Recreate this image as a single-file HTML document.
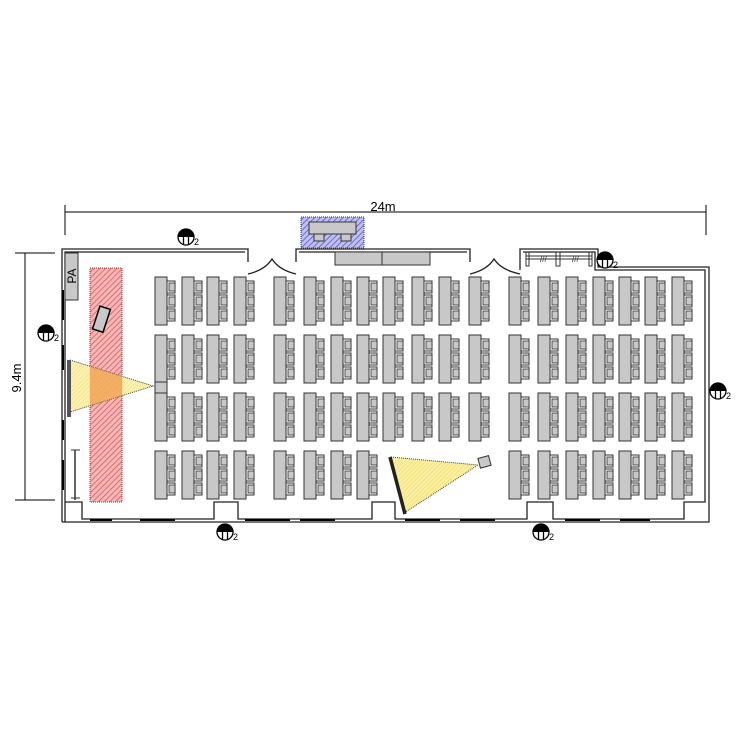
<!DOCTYPE html>
<html><head><meta charset="utf-8"><style>
html,body{margin:0;padding:0;background:#fff;}
svg{display:block;font-family:"Liberation Sans",sans-serif;}
</style></head><body>
<svg width="748" height="748" viewBox="0 0 748 748" xmlns="http://www.w3.org/2000/svg">
<defs>
<pattern id="red" width="4" height="4" patternUnits="userSpaceOnUse" patternTransform="rotate(45)"><rect width="4" height="4" fill="#f4b8b8"/><line x1="0" y1="0" x2="0" y2="4" stroke="#e05050" stroke-width="1.5"/></pattern>
<pattern id="blue" width="4" height="4" patternUnits="userSpaceOnUse" patternTransform="rotate(45)"><rect width="4" height="4" fill="#c0c0f0"/><line x1="0" y1="0" x2="0" y2="4" stroke="#5050c8" stroke-width="1.5"/></pattern>
<pattern id="yel" width="3" height="3" patternUnits="userSpaceOnUse" patternTransform="rotate(45)"><rect width="3" height="3" fill="#fbf0a0"/><line x1="0" y1="0" x2="0" y2="3" stroke="#e8d060" stroke-width="0.8"/></pattern>
<clipPath id="tri"><polygon points="70,360 153,386 70,412"/></clipPath>
<g id="desk">
<rect x="0" y="0" width="12" height="48" fill="#c8c8c8" stroke="#333" stroke-width="1"/>
<rect x="12" y="4" width="8" height="12" fill="#fff" stroke="#333" stroke-width="1"/><rect x="14" y="6" width="6" height="8" fill="#c8c8c8" stroke="#333" stroke-width="0.8"/>
<rect x="12" y="18" width="8" height="12" fill="#fff" stroke="#333" stroke-width="1"/><rect x="14" y="20" width="6" height="8" fill="#c8c8c8" stroke="#333" stroke-width="0.8"/>
<rect x="12" y="32" width="8" height="12" fill="#fff" stroke="#333" stroke-width="1"/><rect x="14" y="34" width="6" height="8" fill="#c8c8c8" stroke="#333" stroke-width="0.8"/>
</g>
<g id="outlet">
<circle cx="0" cy="0" r="8" fill="#fff" stroke="#000" stroke-width="1.3"/>
<path d="M-8,0 A8,8 0 0 1 8,0 Z" fill="#000"/>
<line x1="-2.5" y1="-3" x2="-2.5" y2="7" stroke="#000" stroke-width="1.3"/><line x1="2.5" y1="-3" x2="2.5" y2="7" stroke="#000" stroke-width="1.3"/>
<text x="8" y="8" font-size="9">2</text>
</g>
</defs>

<line x1="65" y1="212" x2="706" y2="212" stroke="#000"/>
<line x1="65" y1="205" x2="65" y2="235" stroke="#000"/>
<line x1="706" y1="205" x2="706" y2="235" stroke="#000"/>
<text x="383" y="211" font-size="13" text-anchor="middle">24m</text>
<line x1="25" y1="253" x2="25" y2="500" stroke="#000"/>
<line x1="15" y1="253" x2="55" y2="253" stroke="#000"/>
<line x1="15" y1="500" x2="55" y2="500" stroke="#000"/>
<text transform="translate(21,378) rotate(-90)" font-size="13" text-anchor="middle">9.4m</text>

<rect x="301" y="217" width="63" height="31" fill="url(#blue)" stroke="#3030a0" stroke-dasharray="1,1"/>
<rect x="309" y="222" width="47" height="12" fill="#c8c8c8" stroke="#333"/>
<rect x="314" y="234" width="10" height="7" fill="#c8c8c8" stroke="#333"/>
<rect x="341" y="234" width="10" height="7" fill="#c8c8c8" stroke="#333"/>

<g fill="none" stroke="#222" stroke-width="1.3">
<path d="M62,522 L62,249 L248,249 L248,262"/>
<path d="M65,522 L65,252 L245,252"/>
<path d="M296,262 L296,249 L470,249 L470,262"/>
<path d="M299,252 L467,252"/>
<path d="M520,270 L520,249 L598,249 L598,267 L709,267 L709,522 L62,522"/>
<path d="M523,252 L595,252 L595,270 L705,270 L705,502 L684,502 L684,519 L553,519 L553,502 L527,502 L527,519 L395,519 L395,502 L372,502 L372,519 L238,519 L238,502 L214,502 L214,519 L82,519 L82,502 L65,502"/>
<path d="M248,274 Q265,270 272,259 Q279,270 296,274"/>
<path d="M470,274 Q487,270 494,259 Q501,270 520,274"/>
</g>
<rect x="335" y="252" width="95" height="13" fill="#c8c8c8" stroke="#333"/>
<line x1="382" y1="252" x2="382" y2="265" stroke="#333"/>
<g stroke="#333" fill="none">
<line x1="526" y1="256" x2="592" y2="256"/><line x1="526" y1="259" x2="592" y2="259"/>
<rect x="526" y="252" width="3" height="14"/><rect x="556" y="252" width="4" height="14"/><rect x="589" y="252" width="3" height="14"/>
<text x="540" y="262" font-size="8" fill="#333" stroke="none">///</text><text x="572" y="262" font-size="8" fill="#333" stroke="none">///</text>
</g>
<g stroke="#000" stroke-width="2">
<line x1="90" y1="520" x2="112" y2="520"/><line x1="140" y1="520" x2="175" y2="520"/><line x1="245" y1="520" x2="290" y2="520"/><line x1="300" y1="520" x2="335" y2="520"/>
<line x1="405" y1="520" x2="440" y2="520"/><line x1="460" y1="520" x2="495" y2="520"/><line x1="565" y1="520" x2="600" y2="520"/><line x1="620" y1="520" x2="650" y2="520"/>
<line x1="63" y1="290" x2="63" y2="320"/><line x1="63" y1="345" x2="63" y2="370"/><line x1="63" y1="420" x2="63" y2="440"/><line x1="63" y1="460" x2="63" y2="490"/>
</g>
<line x1="75" y1="450" x2="75" y2="500" stroke="#333" stroke-width="1.5"/>
<line x1="71" y1="450" x2="80" y2="450" stroke="#333"/><line x1="71" y1="498" x2="80" y2="498" stroke="#333"/>

<rect x="65" y="253" width="13" height="47" fill="#c8c8c8" stroke="#333"/>
<text transform="translate(76,276) rotate(-90)" font-size="12" text-anchor="middle">PA</text>

<rect x="90" y="268" width="32" height="234" fill="url(#red)" stroke="#a03030" stroke-dasharray="1,1"/>
<rect x="96" y="307" width="11" height="24" fill="#c8c8c8" stroke="#000" stroke-width="1.5" transform="rotate(18 101 319)"/>

<polygon points="70,360 153,386 70,412" fill="url(#yel)" fill-opacity="0.85" stroke="#444" stroke-dasharray="1,1"/>
<rect x="90" y="355" width="32" height="60" fill="#f08a40" fill-opacity="0.6" clip-path="url(#tri)"/>
<rect x="67" y="360" width="4" height="57" fill="#555"/>

<g>
<use href="#desk" x="155" y="277"/><use href="#desk" x="182" y="277"/><use href="#desk" x="207" y="277"/><use href="#desk" x="234" y="277"/>
<use href="#desk" x="155" y="335"/><use href="#desk" x="182" y="335"/><use href="#desk" x="207" y="335"/><use href="#desk" x="234" y="335"/>
<use href="#desk" x="155" y="393"/><use href="#desk" x="182" y="393"/><use href="#desk" x="207" y="393"/><use href="#desk" x="234" y="393"/>
<use href="#desk" x="155" y="451"/><use href="#desk" x="182" y="451"/><use href="#desk" x="207" y="451"/><use href="#desk" x="234" y="451"/>
<rect x="155" y="382" width="12" height="11" fill="#c8c8c8" stroke="#333"/>

<use href="#desk" x="274" y="277"/><use href="#desk" x="304" y="277"/><use href="#desk" x="331" y="277"/><use href="#desk" x="357" y="277"/><use href="#desk" x="383" y="277"/><use href="#desk" x="412" y="277"/><use href="#desk" x="439" y="277"/><use href="#desk" x="469" y="277"/>
<use href="#desk" x="274" y="335"/><use href="#desk" x="304" y="335"/><use href="#desk" x="331" y="335"/><use href="#desk" x="357" y="335"/><use href="#desk" x="383" y="335"/><use href="#desk" x="412" y="335"/><use href="#desk" x="439" y="335"/><use href="#desk" x="469" y="335"/>
<use href="#desk" x="274" y="393"/><use href="#desk" x="304" y="393"/><use href="#desk" x="331" y="393"/><use href="#desk" x="357" y="393"/><use href="#desk" x="383" y="393"/><use href="#desk" x="412" y="393"/><use href="#desk" x="439" y="393"/><use href="#desk" x="469" y="393"/>
<use href="#desk" x="274" y="451"/><use href="#desk" x="304" y="451"/><use href="#desk" x="331" y="451"/><use href="#desk" x="357" y="451"/>

<use href="#desk" x="509" y="277"/><use href="#desk" x="538" y="277"/><use href="#desk" x="566" y="277"/><use href="#desk" x="593" y="277"/><use href="#desk" x="619" y="277"/><use href="#desk" x="645" y="277"/><use href="#desk" x="672" y="277"/>
<use href="#desk" x="509" y="335"/><use href="#desk" x="538" y="335"/><use href="#desk" x="566" y="335"/><use href="#desk" x="593" y="335"/><use href="#desk" x="619" y="335"/><use href="#desk" x="645" y="335"/><use href="#desk" x="672" y="335"/>
<use href="#desk" x="509" y="393"/><use href="#desk" x="538" y="393"/><use href="#desk" x="566" y="393"/><use href="#desk" x="593" y="393"/><use href="#desk" x="619" y="393"/><use href="#desk" x="645" y="393"/><use href="#desk" x="672" y="393"/>
<use href="#desk" x="509" y="451"/><use href="#desk" x="538" y="451"/><use href="#desk" x="566" y="451"/><use href="#desk" x="593" y="451"/><use href="#desk" x="619" y="451"/><use href="#desk" x="645" y="451"/><use href="#desk" x="672" y="451"/>
</g>

<polygon points="391,457 478,465 404,513" fill="url(#yel)" stroke="#444" stroke-dasharray="1,1"/>
<line x1="390" y1="457" x2="405" y2="514" stroke="#222" stroke-width="3.5"/>
<rect x="479" y="457" width="11" height="10" fill="#c8c8c8" stroke="#333" transform="rotate(-15 484 462)"/>

<use href="#outlet" x="186" y="237"/>
<use href="#outlet" x="46" y="333"/>
<use href="#outlet" x="605" y="260"/>
<use href="#outlet" x="718" y="391"/>
<use href="#outlet" x="225" y="532"/>
<use href="#outlet" x="541" y="532"/>
</svg>
</body></html>
